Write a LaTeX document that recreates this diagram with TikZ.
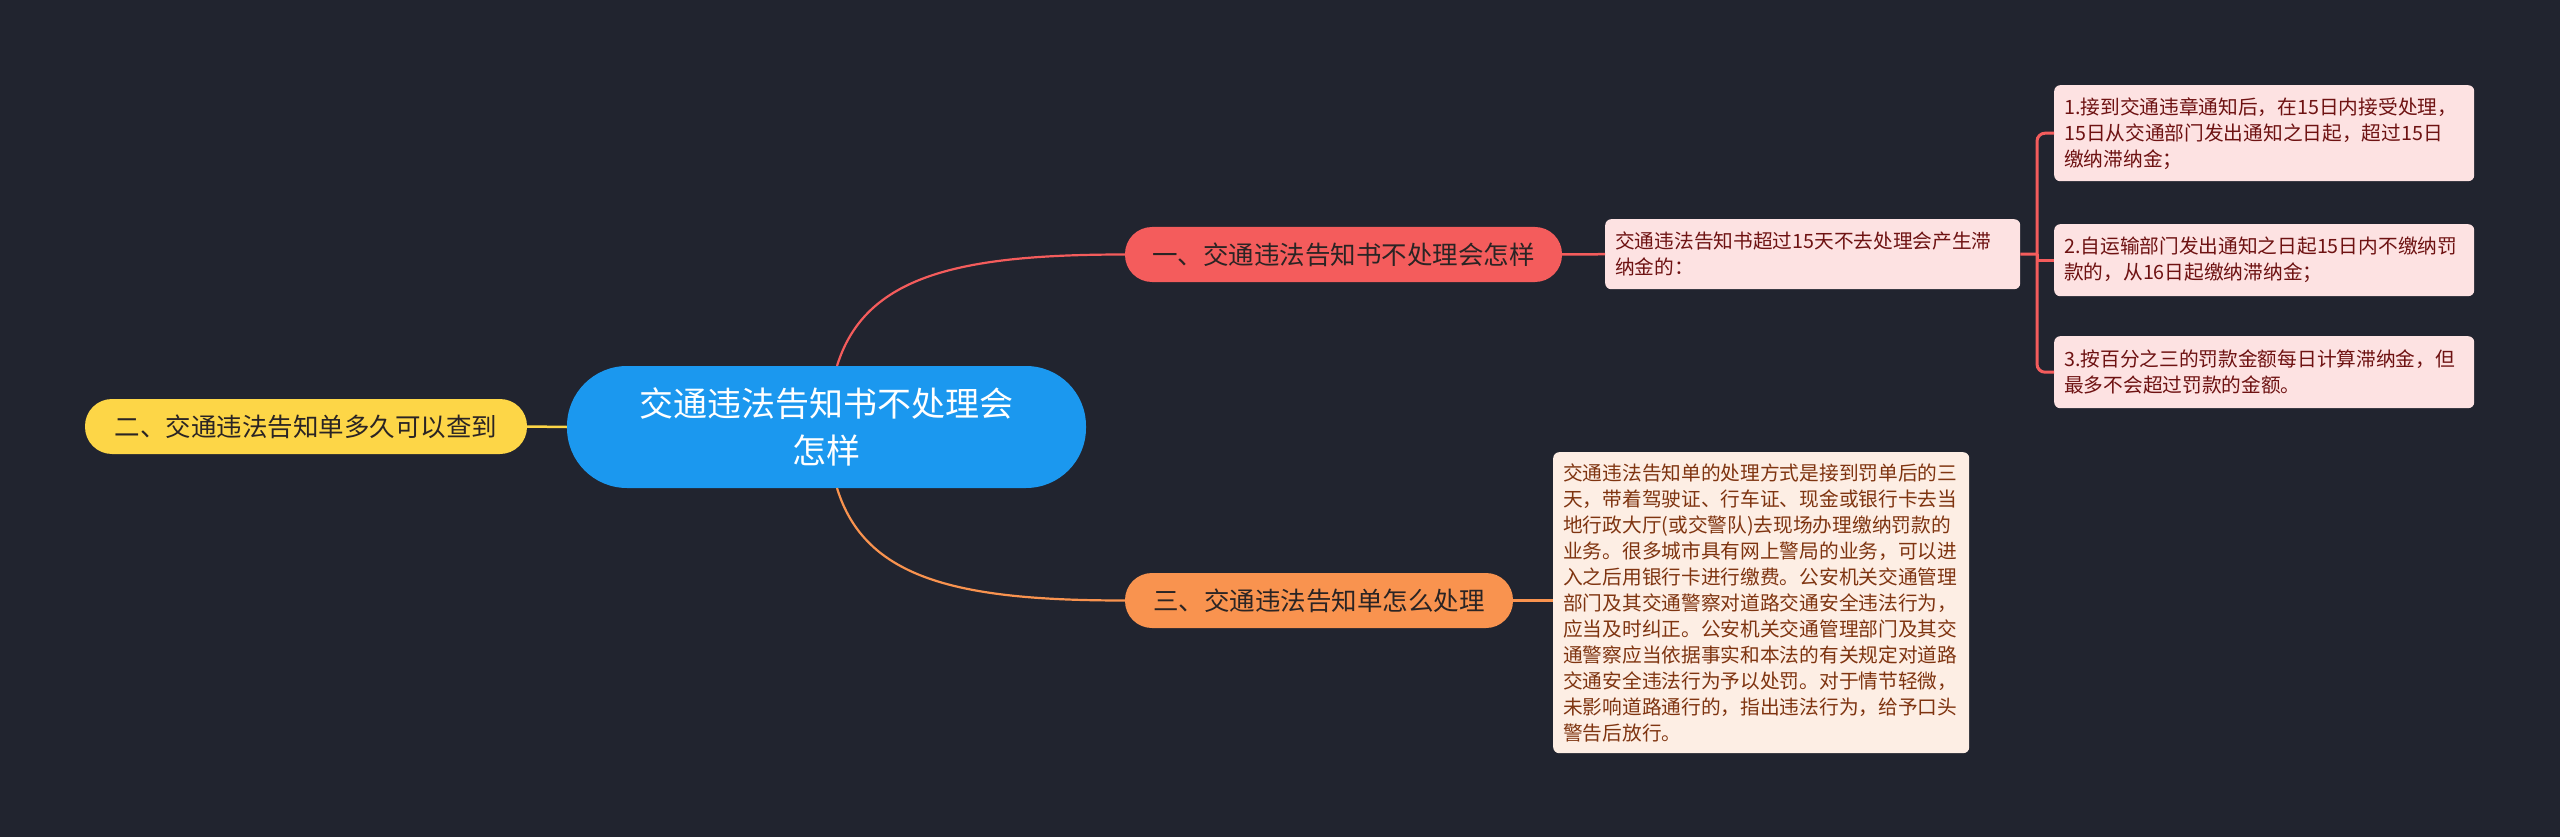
\documentclass[tikz,border=0pt]{standalone}
\usepackage{fontspec}
\setmainfont{Noto Sans CJK SC}
\definecolor{bg}{HTML}{21242F}
\definecolor{cblue}{HTML}{1B98EF}
\definecolor{cred}{HTML}{F45C5C}
\definecolor{corange}{HTML}{F9934F}
\definecolor{cyellow}{HTML}{FDD647}
\definecolor{pinkbox}{HTML}{FDE2E2}
\definecolor{peachbox}{HTML}{FDEEE4}
\definecolor{redtxt}{HTML}{6E1212}
\definecolor{browntxt}{HTML}{7F3410}
\definecolor{txtdark}{HTML}{2A2424}
\begin{document}
\begin{tikzpicture}[x=1pt,y=-1pt,
  main/.style={rounded corners=27pt, minimum height=55pt, inner sep=0pt, font=\fontsize{25.5}{30}\selectfont, text=txtdark},
  leaf/.style={rounded corners=6pt, align=left, inner xsep=10pt, inner ysep=0pt, font=\fontsize{19.7}{26}\selectfont, anchor=north west},
  redleaf/.style={leaf, fill=pinkbox, text=redtxt},
  peachleaf/.style={leaf, fill=peachbox, text=browntxt},
  link/.style={line width=2.5pt}]
\fill[bg] (0,0) rectangle (2560,837);
\useasboundingbox (0,0) rectangle (2560,837);

% center
\node[fill=cblue, rounded corners=60pt, minimum width=519pt, minimum height=122pt, align=center, text=white, font=\fontsize{34}{47}\selectfont] (c) at (826.5,427) {交通违法告知书不处理会\\怎样};

% main branches
\node[main, fill=cred, minimum width=437pt] (n1) at (1343.5,254.5) {一、交通违法告知书不处理会怎样};
\node[main, fill=corange, minimum width=388pt] (n3) at (1319,600.5) {三、交通违法告知单怎么处理};
\node[main, fill=cyellow, minimum width=442pt] (n2) at (306,426.5) {二、交通违法告知单多久可以查到};

% leaves
\node[redleaf, text width=395pt, minimum height=70pt] (a) at (1605,219) {交通违法告知书超过15天不去处理会产生滞\\纳金的：};
\node[redleaf, text width=400pt, minimum height=96pt] (b1) at (2054,85) {1.接到交通违章通知后，在15日内接受处理，\\15日从交通部门发出通知之日起，超过15日\\缴纳滞纳金；};
\node[redleaf, text width=400pt, minimum height=72pt] (b2) at (2054,224) {2.自运输部门发出通知之日起15日内不缴纳罚\\款的，从16日起缴纳滞纳金；};
\node[redleaf, text width=400pt, minimum height=72pt] (b3) at (2054,336) {3.按百分之三的罚款金额每日计算滞纳金，但\\最多不会超过罚款的金额。};
\node[peachleaf, text width=396pt, minimum height=301pt] (bb) at (1553,452) {交通违法告知单的处理方式是接到罚单后的三\\天，带着驾驶证、行车证、现金或银行卡去当\\地行政大厅(或交警队)去现场办理缴纳罚款的\\业务。很多城市具有网上警局的业务，可以进\\入之后用银行卡进行缴费。公安机关交通管理\\部门及其交通警察对道路交通安全违法行为，\\应当及时纠正。公安机关交通管理部门及其交\\通警察应当依据事实和本法的有关规定对道路\\交通安全违法行为予以处罚。对于情节轻微，\\未影响道路通行的，指出违法行为，给予口头\\警告后放行。};

% connectors
\coordinate (ct) at (837,366);
\coordinate (cb) at (837,488);
\draw[link, cred, line width=2.2pt] (ct) .. controls (865,275) and (960,254.5) .. (n1.west);
\draw[link, corange, line width=2.2pt] (cb) .. controls (865,580) and (960,600.5) .. (n3.west);
\draw[link, cyellow] (c.west) -- (n2.east);
\draw[link, cred] (n1.east) -- (a.west);
\draw[link, corange] (n3.east) -- (n3.east -| bb.west);
\coordinate (bx) at (2037,254);
\draw[link, cred, line width=3pt] (a.east) -- (bx);
\draw[link, cred, line width=3pt, rounded corners=8pt] (b1.west) -| (bx) |- (b3.west);
\draw[link, cred, line width=3pt] (bx) |- (b2.west);
\end{tikzpicture}
\end{document}
